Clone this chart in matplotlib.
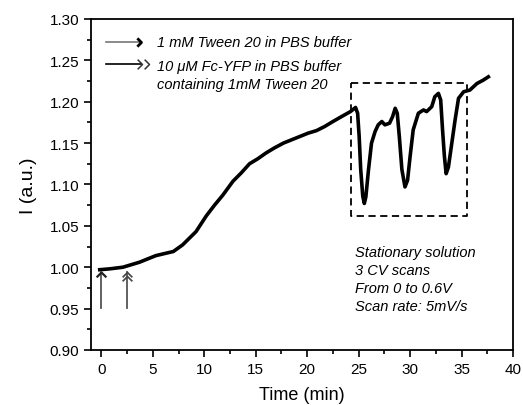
import matplotlib
matplotlib.use("Agg")
import matplotlib.pyplot as plt
from matplotlib.ticker import MultipleLocator
from matplotlib.path import Path

plt.rcParams["font.family"] = ["Liberation Sans", "DejaVu Sans"]

# current trace (time in min, normalised current)
time = [-0.15, 0.8, 2.1, 3.7, 5.3, 7.0, 7.9, 9.2, 10.2, 11.0, 11.8, 12.8, 13.6,
        14.4, 15.2, 16.0, 16.8, 17.7, 18.5, 19.3, 20.1, 20.9, 21.7, 22.5, 23.2,
        24.2, 24.7, 24.9, 25.05, 25.2, 25.4, 25.55, 25.7, 25.95, 26.25, 26.6,
        26.9, 27.25, 27.55, 28.0, 28.3, 28.55, 28.75, 28.95, 29.2, 29.5, 29.75,
        30.0, 30.3, 30.8, 31.3, 31.6, 32.1, 32.4, 32.75, 32.97, 33.15, 33.33,
        33.5, 33.72, 34.05, 34.37, 34.7, 35.2, 35.8, 36.5, 37.1, 37.6]
current = [0.997, 0.998, 1.000, 1.006, 1.014, 1.019, 1.027, 1.043, 1.062, 1.075,
           1.087, 1.104, 1.114, 1.125, 1.131, 1.138, 1.144, 1.150, 1.154, 1.158,
           1.162, 1.165, 1.170, 1.176, 1.181, 1.188, 1.193, 1.186, 1.158, 1.118,
           1.086, 1.077, 1.085, 1.117, 1.150, 1.164, 1.172, 1.176, 1.172, 1.174,
           1.182, 1.192, 1.186, 1.158, 1.118, 1.097, 1.105, 1.134, 1.166, 1.186,
           1.190, 1.188, 1.194, 1.206, 1.210, 1.202, 1.166, 1.134, 1.113, 1.121,
           1.150, 1.178, 1.204, 1.212, 1.214, 1.222, 1.226, 1.230]

# dashed box around the CV scans
box_t = [24.25, 35.5]
box_i = [1.062, 1.223]

# injection arrows
inj_t = [0.0, 2.45]

key_text = ["1 mM Tween 20 in PBS buffer",
            "10 \u03bcM Fc-YFP in PBS buffer",
            "containing 1mM Tween 20"]
note_lines = ["Stationary solution", "3 CV scans", "From 0 to 0.6V",
              "Scan rate: 5mV/s"]

chevron = Path([(-1, 1), (0, 0), (-1, -1)])
up_chevron = Path([(-1, -1), (0, 0), (1, -1)])

fig = plt.figure(figsize=(5.23, 4.06), dpi=100)
ax = fig.add_axes([0.174, 0.1355, 0.807, 0.8155])

ax.plot(time, current, color="black", lw=2.6, solid_joinstyle="round")

ax.plot([box_t[0], box_t[1], box_t[1], box_t[0], box_t[0]],
        [box_i[1], box_i[1], box_i[0], box_i[0], box_i[1]],
        color="black", lw=1.3, ls=(0, (4, 2.5)))

# arrows marking additions
for t in inj_t:
    ax.plot([t, t], [0.951, 0.994], color="#555555", lw=1.3)
ax.plot([inj_t[0]], [0.994], marker=up_chevron, ms=7, mfc="none",
        mec="#222222", mew=1.6)
ax.plot([inj_t[1], inj_t[1]], [0.994, 0.989], marker=up_chevron, ls="none",
        ms=7, mfc="none", mec="#444444", mew=1.2)

# key at top left
ax.plot([0.5, 3.9], [1.2725, 1.2725], color="#777777", lw=1.2)
ax.plot([3.9], [1.2725], marker=chevron, ms=6, mfc="none", mec="black",
        mew=2.0)
ax.plot([0.5, 3.9], [1.2455, 1.2455], color="black", lw=1.2)
ax.plot([3.95, 4.6], [1.2455, 1.2455], marker=chevron, ls="none", ms=7,
        mfc="none", mec="#333333", mew=1.1)
ax.text(5.4, 1.2725, key_text[0], style="italic", fontsize=10.5,
        va="center", ha="left")
ax.text(5.4, 1.2435, key_text[1], style="italic", fontsize=10.5,
        va="center", ha="left")
ax.text(5.4, 1.2215, key_text[2], style="italic", fontsize=10.5,
        va="center", ha="left")

for k, line in enumerate(note_lines):
    ax.text(24.65, 1.0184 - k * 0.0218, line, style="italic", fontsize=10.5,
            va="center", ha="left")

ax.set_xlim(-1, 40)
ax.set_ylim(0.90, 1.30)
ax.xaxis.set_major_locator(MultipleLocator(5))
ax.xaxis.set_minor_locator(MultipleLocator(2.5))
ax.yaxis.set_major_locator(MultipleLocator(0.05))
ax.yaxis.set_minor_locator(MultipleLocator(0.025))
ax.yaxis.set_major_formatter(plt.FormatStrFormatter("%.2f"))
ax.tick_params(which="major", direction="out", length=5, width=1.2,
               labelsize=11)
ax.tick_params(which="minor", direction="out", length=3, width=1.2)
for sp in ax.spines.values():
    sp.set_linewidth(1.3)

ax.set_xlabel("Time (min)", fontsize=13, labelpad=7)
ax.set_ylabel("I (a.u.)", fontsize=14, labelpad=9)

fig.savefig("out.png", dpi=100)
